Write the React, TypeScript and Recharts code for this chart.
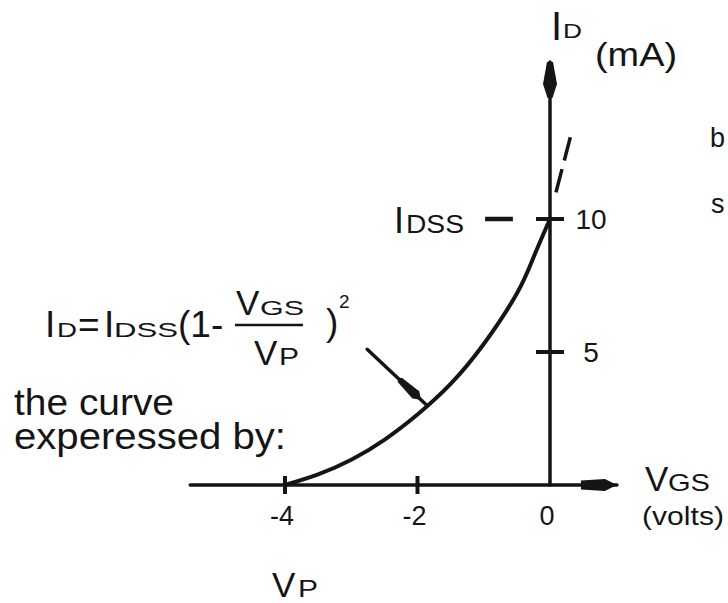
import { LineChart, Line, XAxis, YAxis, ReferenceLine, ReferenceDot } from "recharts";

// JFET transfer characteristic: ID against VGS
const gateVolts = [-4, -3.5, -3, -2.5, -2, -1.5, -1, -0.5, -0.25, 0];
const drainMA = [0, 0.4, 0.95, 1.7, 2.65, 3.8, 5.3, 7.2, 8.55, 10];
const extVolts = [0.09, 0.32];
const extMA = [11.0, 13.2];

const vgsTicks = [-4, -2, 0];
const vgsTickLabels = ["-4", "-2", "0"];
const idTicks = [5, 10];
const idTickLabels = ["5", "10"];

const idss = 10;
const idssDash = [-0.98, -0.56];
const vgsAxisSpan = [-5.43, 1.01];
const idAxisTop = 15.9;
const pointerVolts = [-2.76, -1.86];
const pointerMA = [5.1, 3.0];

const curve = gateVolts.map((v, k) => ({ v, id: drainMA[k] }));
const extension = extVolts.map((v, k) => ({ v, id: extMA[k] }));

const INK = "#151515";
const FONT = "'Liberation Sans', Arial, Helvetica, sans-serif";

// arrowhead outlines as [distance back from tip, side offset]
const X_HEAD = [[0, 0], [12, -6], [36, -4.5], [36, 4.5], [12, 6]];
const Y_HEAD = [[0, -3], [0, 3], [22, 7], [36, 2.5], [36, -2.5], [22, -7]];
const POINTER_HEAD = [[8, 0], [15, 5], [37, 3], [39, 0], [37, -3], [15, -5]];

function ArrowLine(props: any) {
  const { x1, y1, x2, y2, head, w } = props;
  const dx = x2 - x1;
  const dy = y2 - y1;
  const len = Math.hypot(dx, dy) || 1;
  const ux = dx / len;
  const uy = dy / len;
  const pts = head
    .map(([b, s]: number[]) => `${x2 - b * ux - s * uy},${y2 - b * uy + s * ux}`)
    .join(" ");
  return (
    <g>
      <line x1={x1} y1={y1} x2={x2} y2={y2} stroke={INK} strokeWidth={w} strokeLinecap="round" />
      <polygon points={pts} fill={INK} />
    </g>
  );
}

function XTick({ cx, cy, label, mark }: any) {
  return (
    <g>
      {mark && <line x1={cx} x2={cx} y1={cy - 9} y2={cy + 9} stroke={INK} strokeWidth={4} />}
      <text x={cx - 3} y={cy + 40} textAnchor="middle" fontSize={27} fontFamily={FONT} fill={INK}>
        {label}
      </text>
    </g>
  );
}

function YTick({ cx, cy, label }: any) {
  return (
    <g>
      <line x1={cx - 14} x2={cx + 14} y1={cy} y2={cy} stroke={INK} strokeWidth={4} />
      <text x={cx + 41} y={cy + 10} textAnchor="middle" fontSize={28} fontFamily={FONT} fill={INK}>
        {label}
      </text>
    </g>
  );
}

function T({ x, y, size, len, children }: any) {
  return (
    <text
      x={x}
      y={y}
      fontSize={size}
      fontFamily={FONT}
      fill={INK}
      textLength={len}
      lengthAdjust={len ? "spacingAndGlyphs" : undefined}
    >
      {children}
    </text>
  );
}

function Notes() {
  return (
    <svg
      width={728}
      height={603}
      style={{ position: "absolute", left: 0, top: 0, pointerEvents: "none" }}
    >
      {/* vertical axis title */}
      <T x={551} y={40} size={40}>I</T>
      <T x={563} y={38} size={21} len={19}>D</T>
      <T x={595} y={66} size={33} len={82}>(mA)</T>

      <T x={710} y={147} size={27}>b</T>
      <T x={711} y={213} size={27}>s</T>

      <T x={394} y={233} size={36}>I</T>
      <T x={406} y={233} size={26} len={58}>DSS</T>

      {/* horizontal axis title */}
      <T x={645} y={491} size={35}>V</T>
      <T x={668} y={491} size={24} len={42}>GS</T>
      <T x={642} y={525} size={26} len={82}>(volts)</T>

      <T x={272} y={597} size={35}>V</T>
      <T x={298} y={597} size={24} len={20}>P</T>

      {/* ID = IDSS (1 - VGS / VP)^2 */}
      <T x={45} y={337} size={37}>I</T>
      <T x={57} y={337} size={21} len={20}>D</T>
      <T x={78} y={337} size={37}>=</T>
      <T x={104} y={337} size={37}>I</T>
      <T x={114} y={337} size={21} len={64}>DSS</T>
      <T x={178} y={337} size={37}>(1-</T>
      <T x={236} y={315} size={35}>V</T>
      <T x={260} y={315} size={21} len={44}>GS</T>
      <line x1={235} x2={303} y1={325} y2={325} stroke={INK} strokeWidth={2.5} />
      <T x={254} y={365} size={35}>V</T>
      <T x={279} y={365} size={24} len={20}>P</T>
      <T x={326} y={335} size={37}>)</T>
      <T x={339} y={308} size={19}>2</T>

      <T x={14} y={415} size={37} len={160}>the curve</T>
      <T x={14} y={449} size={37} len={272}>experessed by:</T>
    </svg>
  );
}

export default function App() {
  return (
    <div style={{ position: "absolute", left: 0, top: 0, width: 728, height: 603, background: "#fff" }}>
      <LineChart
        width={728}
        height={603}
        margin={{ top: 6.2, right: 12.375, bottom: 11.6, left: 20 }}
      >
        <XAxis type="number" dataKey="v" domain={[-8, 2.5]} allowDataOverflow hide />
        <YAxis type="number" dataKey="id" domain={[-4, 18]} allowDataOverflow hide />

        <ReferenceLine
          segment={[{ x: vgsAxisSpan[0], y: 0 }, { x: vgsAxisSpan[1], y: 0 }]}
          shape={(p: any) => <ArrowLine {...p} head={X_HEAD} w={3.5} />}
        />
        <ReferenceLine
          segment={[{ x: 0, y: 0 }, { x: 0, y: idAxisTop }]}
          shape={(p: any) => <ArrowLine {...p} head={Y_HEAD} w={3.5} />}
        />
        <ReferenceLine
          segment={[{ x: idssDash[0], y: idss }, { x: idssDash[1], y: idss }]}
          stroke={INK}
          strokeWidth={4.5}
        />
        <ReferenceLine
          segment={[
            { x: pointerVolts[0], y: pointerMA[0] },
            { x: pointerVolts[1], y: pointerMA[1] },
          ]}
          shape={(p: any) => <ArrowLine {...p} head={POINTER_HEAD} w={3.5} />}
        />

        {vgsTicks.map((t, k) => (
          <ReferenceDot
            key={`vx${t}`}
            x={t}
            y={0}
            r={0}
            shape={(p: any) => <XTick {...p} label={vgsTickLabels[k]} mark={t !== 0} />}
          />
        ))}
        {idTicks.map((t, k) => (
          <ReferenceDot
            key={`iy${t}`}
            x={0}
            y={t}
            r={0}
            shape={(p: any) => <YTick {...p} label={idTickLabels[k]} />}
          />
        ))}

        <Line
          data={curve}
          dataKey="id"
          type="natural"
          stroke={INK}
          strokeWidth={4}
          dot={false}
          isAnimationActive={false}
        />
        <Line
          data={extension}
          dataKey="id"
          type="linear"
          stroke={INK}
          strokeWidth={3.5}
          strokeDasharray="24 9"
          dot={false}
          isAnimationActive={false}
        />
      </LineChart>
      <Notes />
    </div>
  );
}
